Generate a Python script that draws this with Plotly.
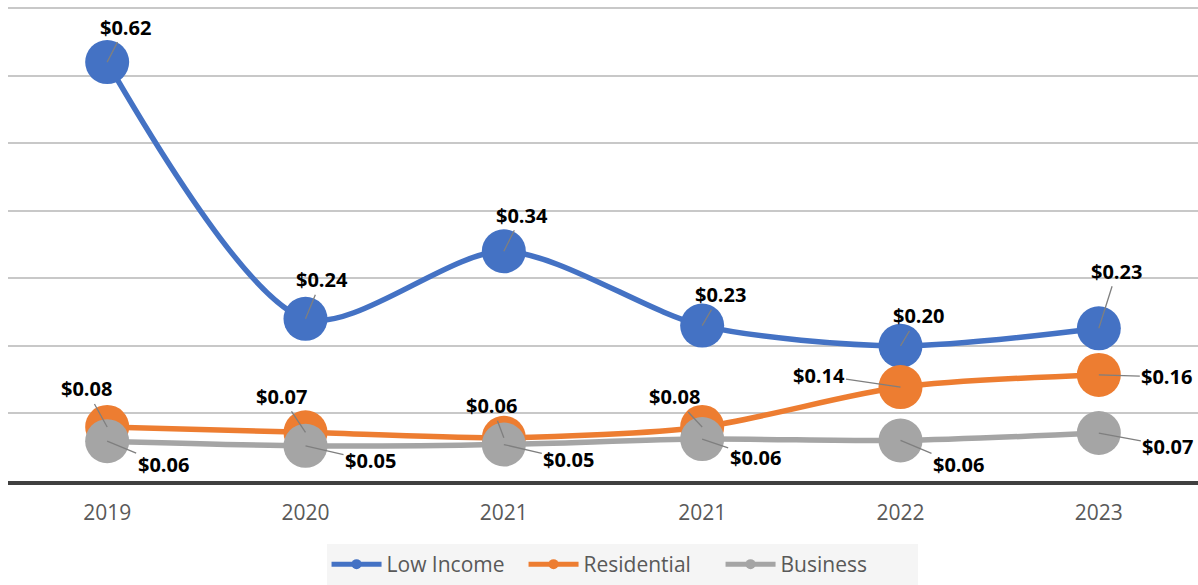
import plotly.graph_objects as go

years = ["2019", "2020", "2021", "2021", "2022", "2023"]
low_income = [0.62, 0.24, 0.34, 0.23, 0.20, 0.226]
residential = [0.08, 0.072, 0.064, 0.08, 0.139, 0.157]
business = [0.059, 0.052, 0.054, 0.062, 0.06, 0.071]

names = ["Low Income", "Residential", "Business"]
colors = ["#4472C4", "#ED7D31", "#A5A5A5"]
series = [low_income, residential, business]

# label offsets (pixels) for each point, per series
offsets = [
    [(18, -35), (16, -39), (18, -36), (18, -31), (18, -30), (18, -57)],
    [(-21, -38), (-24, -36), (-12, -32), (-28, -30), (-82, -12), (68, 2)],
    [(56, 23), (65, 15), (65, 15), (53, 18), (58, 24), (69, 13)],
]

xpos = list(range(len(years)))
fig = go.Figure()

for name, col, vals in zip(names, colors, series):
    fig.add_trace(go.Scatter(
        x=xpos, y=vals, mode="lines+markers", name=name, showlegend=False,
        line=dict(color=col, width=5.5, shape="spline", smoothing=0.8),
        marker=dict(color=col, size=44),
        hoverinfo="skip",
    ))
    # legend-only entry with small marker
    fig.add_trace(go.Scatter(
        x=[None], y=[None], mode="lines+markers", name=name,
        line=dict(color=col, width=5), marker=dict(color=col, size=10),
    ))

for vals, offs in zip(series, offsets):
    for i, v in enumerate(vals):
        fig.add_annotation(
            x=xpos[i], y=v, text=f"${v:.2f}",
            ax=offs[i][0], ay=offs[i][1], axref="pixel", ayref="pixel",
            showarrow=True, arrowhead=0, arrowwidth=1.3, arrowcolor="#7f7f7f",
            standoff=0, startstandoff=0,
            font=dict(family="Open Sans", size=20, color="#000000", weight="bold"),
        )

fig.update_layout(
    width=1198, height=585,
    margin=dict(l=8, r=0, t=6, b=103),
    plot_bgcolor="white", paper_bgcolor="white",
    font=dict(family="Open Sans", color="#595959"),
    legend=dict(
        orientation="h", x=0.516, xanchor="center", y=-0.133, yanchor="top",
        bgcolor="#f5f5f5", font=dict(size=21, color="#595959"),
        itemwidth=50, entrywidth=132, entrywidthmode="pixels",
    ),
)
fig.update_xaxes(
    tickvals=xpos, ticktext=years, range=[-0.5, 5.5],
    showgrid=False, showline=True, linecolor="#404040", linewidth=3.5,
    tickfont=dict(size=21, color="#595959"), ticks="", zeroline=False,
    ticklabelstandoff=10,
)
fig.update_yaxes(
    range=[0, 0.703], dtick=0.1, showticklabels=False,
    gridcolor="#c8c8c8", gridwidth=1.5, zeroline=False, showline=False,
)

# drop the default page margin so the figure sits at the window's corner
fig.write_html("out.html", config={"displayModeBar": False},
               post_script="document.body.style.margin='0';")
